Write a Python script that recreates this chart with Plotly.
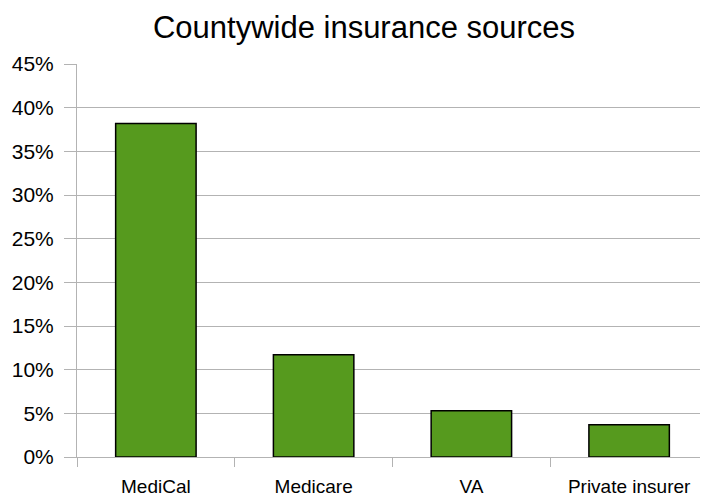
import plotly.graph_objects as go

categories = ["MediCal", "Medicare", "VA", "Private insurer"]
values = [0.382, 0.117, 0.053, 0.037]
y_ticks = [0, 0.05, 0.10, 0.15, 0.20, 0.25, 0.30, 0.35, 0.40, 0.45]
y_tick_labels = ["0%", "5%", "10%", "15%", "20%", "25%", "30%", "35%", "40%", "45%"]

fig = go.Figure(
    go.Bar(
        x=categories,
        y=values,
        marker=dict(color="#569A1E", line=dict(color="#000000", width=1.5)),
        width=0.51,
    )
)

# page has an 8px body margin, so the figure is sized to fit the 708x497 window
W, H = 700, 489
ml, mr, mt, mb = 69, 0, 56, 40

fig.update_layout(
    width=W,
    height=H,
    margin=dict(l=ml, r=mr, t=mt, b=mb, pad=0),
    paper_bgcolor="white",
    plot_bgcolor="white",
    font=dict(family="Liberation Sans, Arial, sans-serif", color="#000000", size=19),
    title=dict(
        text="Countywide insurance sources",
        x=(356 - ml) / (W - ml - mr),
        xref="paper",
        xanchor="center",
        y=1 - 19 / H,
        yanchor="middle",
        font=dict(size=31, family="Liberation Sans, Arial, sans-serif", color="#000000"),
    ),
    showlegend=False,
)

fig.update_yaxes(
    range=[0, 0.45],
    tickvals=y_ticks,
    ticktext=y_tick_labels,
    showgrid=True,
    gridcolor="#B3B3B3",
    gridwidth=1,
    showline=True,
    linecolor="#B3B3B3",
    linewidth=1,
    ticks="outside",
    ticklen=12,
    tickcolor="#B3B3B3",
    tickfont=dict(size=21),
    ticklabelstandoff=6,
    zeroline=False,
    automargin=False,
)

fig.update_xaxes(
    showline=True,
    linecolor="#B3B3B3",
    linewidth=1,
    ticks="outside",
    tickson="boundaries",
    ticklen=9,
    tickcolor="#B3B3B3",
    tickfont=dict(size=19),
    ticklabelstandoff=12,
    showgrid=False,
    automargin=False,
)

fig.write_html("out.html")
